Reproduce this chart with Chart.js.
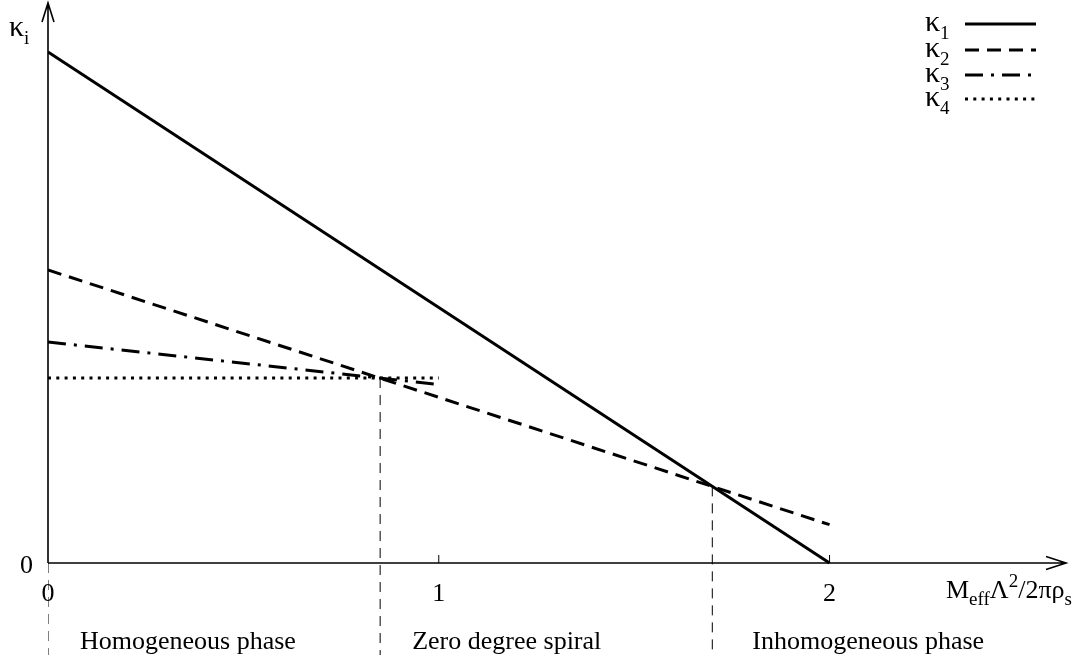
<!DOCTYPE html>
<html>
<head>
<meta charset="utf-8">
<script src="https://cdn.jsdelivr.net/npm/chart.js@4"></script>
<style>
  html, body { margin: 0; padding: 0; background: #fff; }
  #wrap { width: 1077px; height: 662px; }
</style>
</head>
<body>
<div id="wrap"><canvas id="c"></canvas></div>
<script>
// values (x in units of M_eff Λ²/2πρ_s)
const xLong = [0, 2];
const xShort = [0, 1];
const kappa1 = [2.0, 0.0];
const kappa2 = [1.147, 0.15];
const kappa3 = [0.865, 0.699];
const kappa4 = [0.724, 0.724];
const phaseX = [0, 0.85, 1.7];
const phaseTop = [0, 0.724, 0.3];
const phaseNames = ['Homogeneous phase', 'Zero degree spiral', 'Inhomogeneous phase'];
const xTicks = [0, 1, 2];
const yTicks = [0];
const seriesSubs = ['1', '2', '3', '4'];

const X_MAX = 2.6, Y_MIN = -0.36, Y_MAX = 2.188;
const FONT = '"Liberation Serif", "Times New Roman", serif';

const pts = (xs, ys) => xs.map((x, i) => ({ x: x, y: ys[i] }));

const styles = [
  { dash: [] },
  { dash: [14, 8] },
  { dash: [18, 8, 3, 8] },
  { dash: [3, 5.3] }
];

const datasets = [
  { data: pts(xLong, kappa1) },
  { data: pts(xLong, kappa2) },
  { data: pts(xShort, kappa3) },
  { data: pts(xShort, kappa4) }
].map((d, i) => Object.assign(d, {
  borderColor: '#000', borderWidth: 3, borderDash: styles[i].dash,
  pointRadius: 0, fill: false, tension: 0, borderCapStyle: 'butt'
}));

// vertical phase boundaries
phaseX.forEach((x, i) => {
  datasets.push({
    data: [{ x: x, y: phaseTop[i] }, { x: x, y: Y_MIN }],
    borderColor: '#000', borderWidth: 1, borderDash: [10, 7],
    pointRadius: 0, fill: false
  });
});

function richText(ctx, x, y, parts) {
  // parts: [text, size, dy]
  let cx = x;
  parts.forEach(p => {
    ctx.font = p[1] + 'px ' + FONT;
    ctx.fillText(p[0], cx, y + (p[2] || 0));
    cx += ctx.measureText(p[0]).width;
  });
  return cx;
}

const decor = {
  id: 'decor',
  afterDatasetsDraw(chart) {
    const ctx = chart.ctx;
    const sx = chart.scales.x, sy = chart.scales.y;
    const x0 = sx.getPixelForValue(0), y0 = sy.getPixelForValue(0);
    const xEnd = 1066, yTop = 3;
    ctx.save();
    ctx.strokeStyle = '#000';
    ctx.fillStyle = '#000';
    ctx.setLineDash([]);
    ctx.lineWidth = 1.6;
    ctx.beginPath();
    ctx.moveTo(x0, y0); ctx.lineTo(xEnd, y0);
    ctx.moveTo(xEnd - 20, y0 - 6.5); ctx.lineTo(xEnd, y0); ctx.lineTo(xEnd - 20, y0 + 6.5);
    ctx.moveTo(x0, y0); ctx.lineTo(x0, yTop);
    ctx.moveTo(x0 - 6, yTop + 19); ctx.lineTo(x0, yTop); ctx.lineTo(x0 + 6, yTop + 19);
    ctx.stroke();

    // ticks
    ctx.lineWidth = 1;
    ctx.beginPath();
    xTicks.forEach(t => {
      if (t === 0) return;
      const px = sx.getPixelForValue(t);
      ctx.moveTo(px, y0); ctx.lineTo(px, y0 - 8);
    });
    ctx.stroke();

    ctx.textBaseline = 'alphabetic';
    ctx.textAlign = 'center';
    ctx.font = '26px ' + FONT;
    xTicks.forEach(t => ctx.fillText(String(t), sx.getPixelForValue(t), 601));
    ctx.textAlign = 'right';
    yTicks.forEach(t => ctx.fillText(String(t), 33, sy.getPixelForValue(t) + 10));

    ctx.textAlign = 'left';
    // axis titles
    richText(ctx, 9, 36, [['κ', 30], ['i', 19, 8]]);
    richText(ctx, 946, 598, [['M', 26], ['eff', 19, 7], ['Λ', 26], ['2', 19, -11], ['/2πρ', 26], ['s', 19, 7]]);

    // phase labels
    const offs = [32, 32, 40];
    ctx.font = '26px ' + FONT;
    phaseNames.forEach((n, i) => ctx.fillText(n, sx.getPixelForValue(phaseX[i]) + offs[i], 649));

    // legend
    const rowY = [24, 50, 75, 99];
    seriesSubs.forEach((s, i) => {
      richText(ctx, 925, rowY[i] + 7, [['κ', 30], [s, 19, 8]]);
      ctx.lineWidth = 3;
      ctx.setLineDash(styles[i].dash);
      ctx.beginPath();
      ctx.moveTo(965, rowY[i]); ctx.lineTo(1036, rowY[i]);
      ctx.stroke();
    });
    ctx.restore();
  }
};

new Chart(document.getElementById('c'), {
  type: 'line',
  data: { datasets: datasets },
  options: {
    responsive: true,
    maintainAspectRatio: false,
    animation: false,
    layout: { padding: { left: 48, right: 13, top: 4, bottom: 7 } },
    plugins: { legend: { display: false }, tooltip: { enabled: false } },
    scales: {
      x: { type: 'linear', min: 0, max: X_MAX, display: false },
      y: { type: 'linear', min: Y_MIN, max: Y_MAX, display: false }
    }
  },
  plugins: [decor]
});
</script>
</body>
</html>
